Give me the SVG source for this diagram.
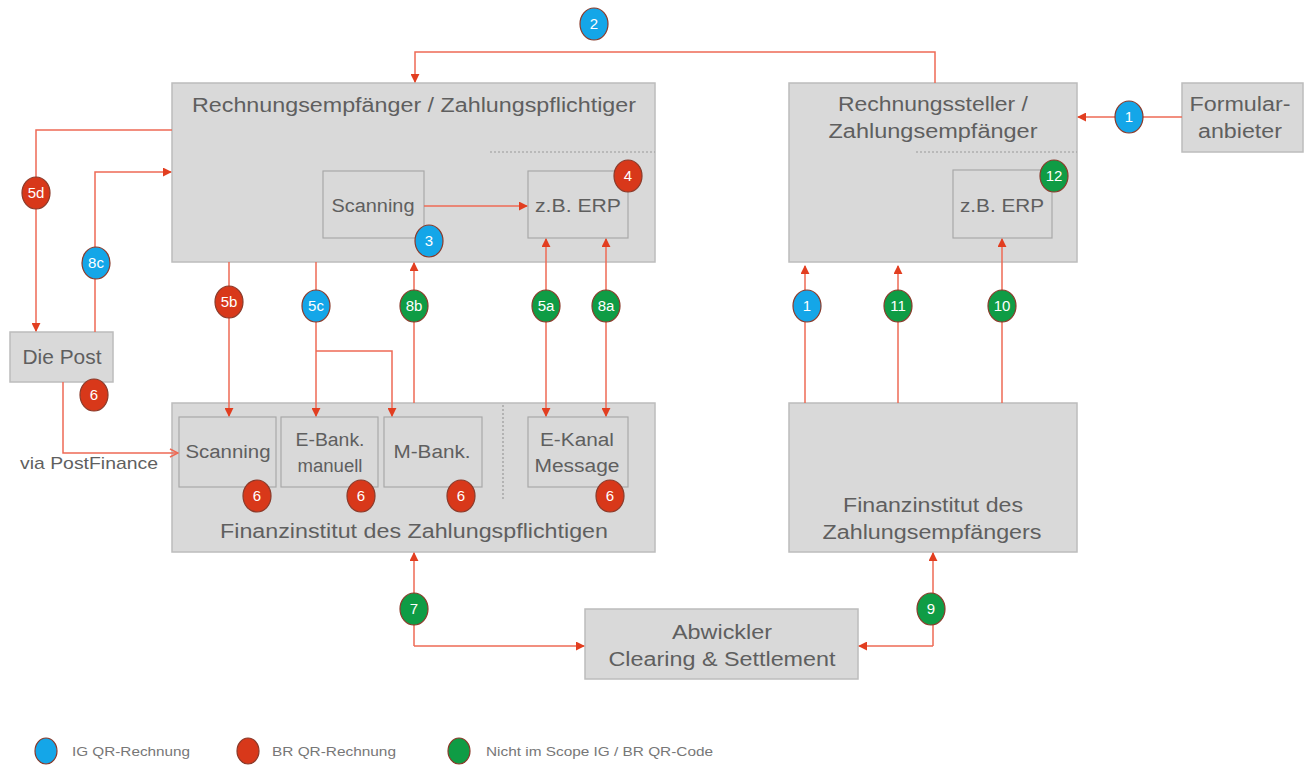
<svg xmlns="http://www.w3.org/2000/svg" width="1304" height="766" viewBox="0 0 1304 766">
<style>
.box{fill:#d9d9d9;stroke:#bcbcbc;stroke-width:1.5}
.inner{fill:#d9d9d9;stroke:#a8a8a8;stroke-width:1.2}
.t{font-family:"Liberation Sans",Arial,sans-serif;fill:#5f5f5f;text-anchor:middle}
.tl{font-size:20px}
.ts{font-size:18px}
.c{fill:none;stroke:#ee6a55;stroke-width:1.5}
.dash{stroke:#9a9a9a;stroke-width:1.2;stroke-dasharray:2,2;fill:none}
.b{stroke:#8a3a2a;stroke-width:1.2}
.blue{fill:#14a6e8}
.red{fill:#d8381a}
.green{fill:#0f9c45}
.bt{font-family:"Liberation Sans",Arial,sans-serif;font-size:15px;fill:#ffffff;text-anchor:middle}
.lg{font-family:"Liberation Sans",Arial,sans-serif;font-size:13px;fill:#777777}
</style>
<defs>
<marker id="ah" viewBox="0 0 10 10" refX="9" refY="5" markerWidth="9" markerHeight="9" markerUnits="userSpaceOnUse" orient="auto-start-reverse">
<path d="M0,0 L10,5 L0,10 z" fill="#e23e20"/>
</marker>
<marker id="oh" viewBox="0 0 10 10" refX="9" refY="5" markerWidth="10" markerHeight="10" markerUnits="userSpaceOnUse" orient="auto">
<path d="M1,1 L9,5 L1,9" fill="none" stroke="#ee6a55" stroke-width="1.5"/>
</marker>
</defs>
<rect width="1304" height="766" fill="#ffffff"/>

<g id="rechnungsempfaenger">
<rect class="box" x="172" y="83" width="483" height="179"/>
<text class="t tl" x="414" y="112" textLength="444" lengthAdjust="spacingAndGlyphs">Rechnungsempfänger / Zahlungspflichtiger</text>
<path class="dash" d="M490,152 H655"/>
</g>
<g id="scanning-top">
<rect class="inner" x="323" y="171" width="101" height="67"/>
<text class="t ts" x="373" y="212" textLength="83" lengthAdjust="spacingAndGlyphs">Scanning</text>
</g>
<g id="erp-left">
<rect class="inner" x="528" y="171" width="100" height="67"/>
<text class="t ts" x="578" y="212" textLength="86" lengthAdjust="spacingAndGlyphs">z.B. ERP</text>
</g>

<g id="rechnungssteller">
<rect class="box" x="789" y="83" width="288" height="179"/>
<text class="t tl" x="933" y="111" textLength="190" lengthAdjust="spacingAndGlyphs">Rechnungssteller /</text>
<text class="t tl" x="933" y="138" textLength="209" lengthAdjust="spacingAndGlyphs">Zahlungsempfänger</text>
<path class="dash" d="M916,152 H1077"/>
</g>
<g id="erp-right">
<rect class="inner" x="953" y="170" width="99" height="68"/>
<text class="t ts" x="1002" y="212" textLength="84" lengthAdjust="spacingAndGlyphs">z.B. ERP</text>
</g>

<g id="formularanbieter">
<rect class="box" x="1182" y="83" width="121" height="69"/>
<text class="t tl" x="1240" y="111" textLength="101" lengthAdjust="spacingAndGlyphs">Formular-</text>
<text class="t tl" x="1240" y="138" textLength="84" lengthAdjust="spacingAndGlyphs">anbieter</text>
</g>

<g id="die-post">
<rect class="box" x="10" y="332" width="103" height="50"/>
<text class="t tl" x="62" y="364" textLength="79" lengthAdjust="spacingAndGlyphs">Die Post</text>
</g>
<text class="t ts" x="89" y="469" style="font-size:17px" textLength="138" lengthAdjust="spacingAndGlyphs">via PostFinance</text>

<g id="fi-zahlungspflichtiger">
<rect class="box" x="172" y="403" width="483" height="149"/>
<text class="t tl" x="414" y="538" textLength="388" lengthAdjust="spacingAndGlyphs">Finanzinstitut des Zahlungspflichtigen</text>
<path class="dash" d="M503,405 V500"/>
</g>
<g id="scanning-bank">
<rect class="inner" x="179" y="417" width="97" height="70"/>
<text class="t ts" x="228" y="458" textLength="85" lengthAdjust="spacingAndGlyphs">Scanning</text>
</g>
<g id="ebank">
<rect class="inner" x="281" y="417" width="97" height="70"/>
<text class="t ts" x="330" y="446" textLength="69" lengthAdjust="spacingAndGlyphs">E-Bank.</text>
<text class="t ts" x="330" y="472" textLength="65" lengthAdjust="spacingAndGlyphs">manuell</text>
</g>
<g id="mbank">
<rect class="inner" x="384" y="417" width="98" height="70"/>
<text class="t ts" x="432" y="458" textLength="77" lengthAdjust="spacingAndGlyphs">M-Bank.</text>
</g>
<g id="ekanal">
<rect class="inner" x="528" y="417" width="100" height="70"/>
<text class="t ts" x="577" y="446" textLength="74" lengthAdjust="spacingAndGlyphs">E-Kanal</text>
<text class="t ts" x="577" y="472" textLength="85" lengthAdjust="spacingAndGlyphs">Message</text>
</g>

<g id="fi-zahlungsempfaenger">
<rect class="box" x="789" y="403" width="288" height="149"/>
<text class="t tl" x="933" y="512" textLength="180" lengthAdjust="spacingAndGlyphs">Finanzinstitut des</text>
<text class="t tl" x="932" y="539" textLength="219" lengthAdjust="spacingAndGlyphs">Zahlungsempfängers</text>
</g>

<g id="abwickler">
<rect class="box" x="585" y="609" width="273" height="70"/>
<text class="t tl" x="722" y="639" textLength="100" lengthAdjust="spacingAndGlyphs">Abwickler</text>
<text class="t tl" x="722" y="666" textLength="227" lengthAdjust="spacingAndGlyphs">Clearing &amp; Settlement</text>
</g>

<g id="connectors">
<path class="c" d="M935,83 V52 H415 V82" marker-end="url(#ah)"/>
<path class="c" d="M424,206 H527" marker-end="url(#ah)"/>
<path class="c" d="M1182,117 H1078" marker-end="url(#ah)"/>
<path class="c" d="M172,130 H36 V331" marker-end="url(#ah)"/>
<path class="c" d="M95,332 V172 H171" marker-end="url(#ah)"/>
<path class="c" d="M63,382 V453 H178" marker-end="url(#oh)"/>
<path class="c" d="M229,262 V416" marker-end="url(#ah)"/>
<path class="c" d="M316,262 V416" marker-end="url(#ah)"/>
<path class="c" d="M316,351 H392 V416" marker-end="url(#ah)"/>
<path class="c" d="M414,403 V263" marker-end="url(#ah)"/>
<path class="c" d="M546,239 V416" marker-start="url(#ah)" marker-end="url(#ah)"/>
<path class="c" d="M606,239 V416" marker-start="url(#ah)" marker-end="url(#ah)"/>
<path class="c" d="M805,403 V266" marker-end="url(#ah)"/>
<path class="c" d="M898,403 V266" marker-end="url(#ah)"/>
<path class="c" d="M1002,403 V239" marker-end="url(#ah)"/>
<path class="c" d="M414,646 V553" marker-end="url(#ah)"/>
<path class="c" d="M414,646 H584" marker-end="url(#ah)"/>
<path class="c" d="M933,646 V553" marker-end="url(#ah)"/>
<path class="c" d="M933,646 H859" marker-end="url(#ah)"/>
</g>

<g id="badges">
<ellipse class="b blue" cx="594" cy="24" rx="14" ry="16"/><text class="bt" x="594" y="29">2</text>
<ellipse class="b blue" cx="1129" cy="117" rx="14" ry="16"/><text class="bt" x="1129" y="122">1</text>
<ellipse class="b red" cx="628" cy="176" rx="14" ry="16"/><text class="bt" x="628" y="181">4</text>
<ellipse class="b blue" cx="429" cy="241" rx="14" ry="16"/><text class="bt" x="429" y="246">3</text>
<ellipse class="b green" cx="1054" cy="176" rx="14" ry="16"/><text class="bt" x="1054" y="181">12</text>
<ellipse class="b red" cx="36" cy="193" rx="14" ry="16"/><text class="bt" x="36" y="198">5d</text>
<ellipse class="b blue" cx="96" cy="263" rx="14" ry="16"/><text class="bt" x="96" y="268">8c</text>
<ellipse class="b red" cx="229" cy="302" rx="14" ry="16"/><text class="bt" x="229" y="307">5b</text>
<ellipse class="b blue" cx="316" cy="306" rx="14" ry="16"/><text class="bt" x="316" y="311">5c</text>
<ellipse class="b green" cx="414" cy="306" rx="14" ry="16"/><text class="bt" x="414" y="311">8b</text>
<ellipse class="b green" cx="546" cy="306" rx="14" ry="16"/><text class="bt" x="546" y="311">5a</text>
<ellipse class="b green" cx="606" cy="306" rx="14" ry="16"/><text class="bt" x="606" y="311">8a</text>
<ellipse class="b blue" cx="807" cy="306" rx="14" ry="16"/><text class="bt" x="807" y="311">1</text>
<ellipse class="b green" cx="898" cy="306" rx="14" ry="16"/><text class="bt" x="898" y="311">11</text>
<ellipse class="b green" cx="1002" cy="306" rx="14" ry="16"/><text class="bt" x="1002" y="311">10</text>
<ellipse class="b red" cx="94" cy="395" rx="14" ry="16"/><text class="bt" x="94" y="400">6</text>
<ellipse class="b red" cx="257" cy="496" rx="14" ry="16"/><text class="bt" x="257" y="501">6</text>
<ellipse class="b red" cx="361" cy="496" rx="14" ry="16"/><text class="bt" x="361" y="501">6</text>
<ellipse class="b red" cx="461" cy="496" rx="14" ry="16"/><text class="bt" x="461" y="501">6</text>
<ellipse class="b red" cx="610" cy="496" rx="14" ry="16"/><text class="bt" x="610" y="501">6</text>
<ellipse class="b green" cx="414" cy="609" rx="14" ry="16"/><text class="bt" x="414" y="614">7</text>
<ellipse class="b green" cx="931" cy="609" rx="14" ry="16"/><text class="bt" x="931" y="614">9</text>
</g>

<g id="legend">
<ellipse class="b blue" cx="46" cy="751" rx="11" ry="13"/>
<text class="lg" x="72" y="756" textLength="118" lengthAdjust="spacingAndGlyphs">IG QR-Rechnung</text>
<ellipse class="b red" cx="248" cy="751" rx="11" ry="13"/>
<text class="lg" x="272" y="756" textLength="124" lengthAdjust="spacingAndGlyphs">BR QR-Rechnung</text>
<ellipse class="b green" cx="459" cy="751" rx="11" ry="13"/>
<text class="lg" x="486" y="756" textLength="227" lengthAdjust="spacingAndGlyphs">Nicht im Scope IG / BR QR-Code</text>
</g>
</svg>
